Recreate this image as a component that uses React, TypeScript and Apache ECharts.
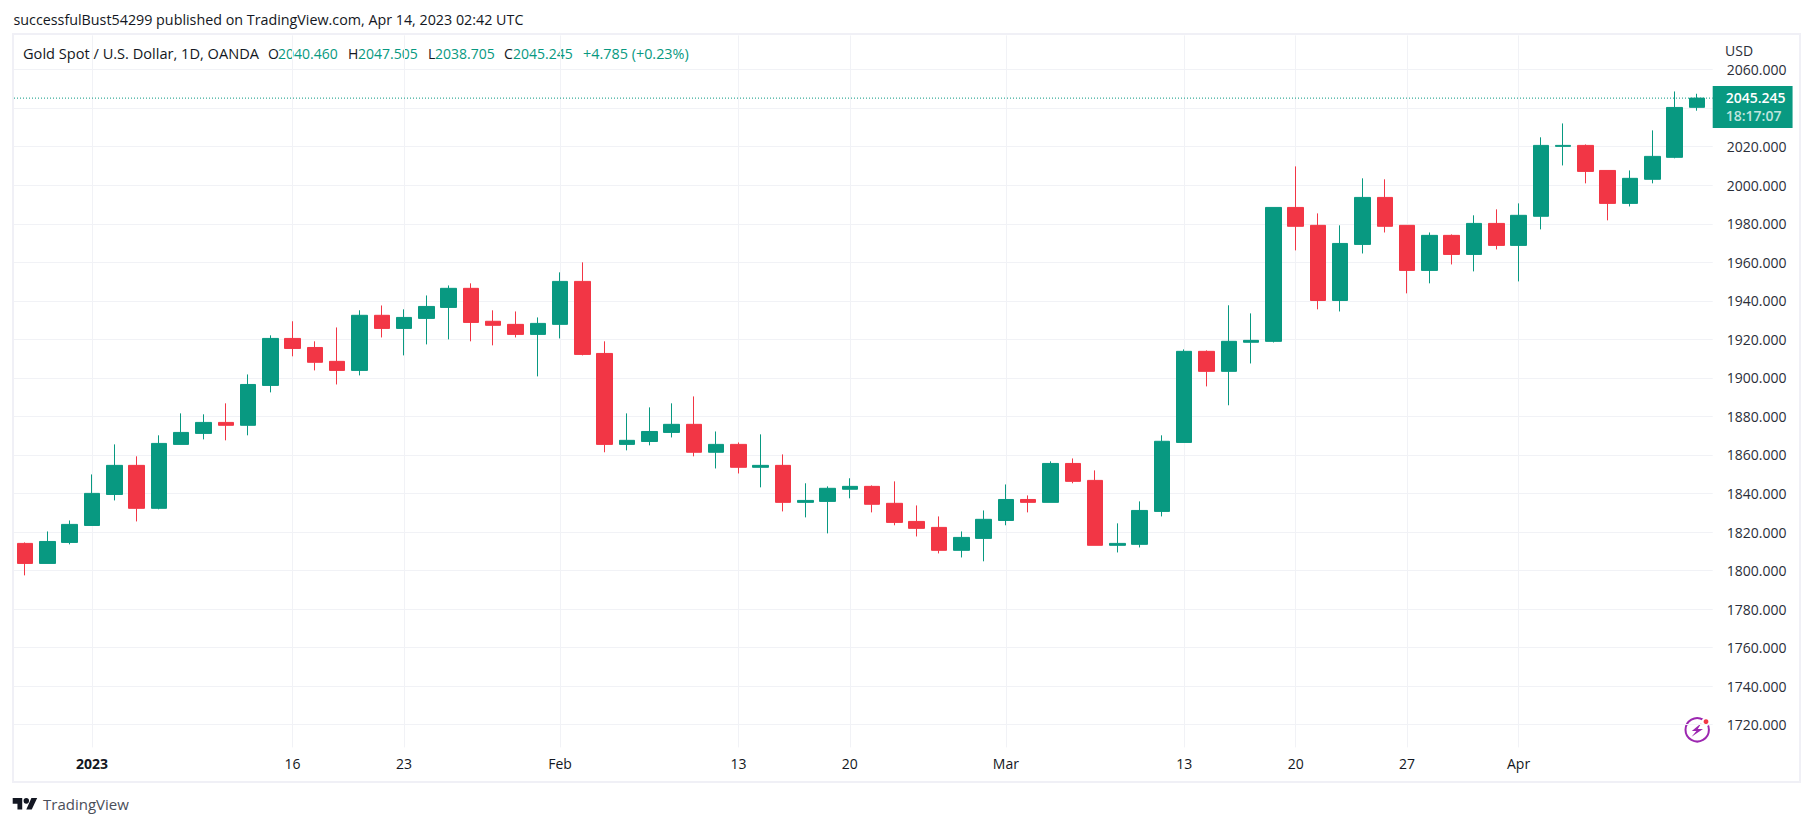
import * as React from "react";
import * as echarts from "echarts";

const UP = "#089981";
const DOWN = "#F23645";
const GRID = "#F1F2F6";
const BORDER = "#F0F0F6";
const FONT = "'Open Sans', sans-serif";

const dates = [
  "Dec 28", "Dec 29", "Dec 30", "2023", "Jan 4", "Jan 5", "Jan 6", "Jan 9", "Jan 10", "Jan 11",
  "Jan 12", "Jan 13", "16", "Jan 17", "Jan 18", "Jan 19", "Jan 20", "23", "Jan 24", "Jan 25",
  "Jan 26", "Jan 27", "Jan 30", "Jan 31", "Feb", "Feb 2", "Feb 3", "Feb 6", "Feb 7", "Feb 8",
  "Feb 9", "Feb 10", "13", "Feb 14", "Feb 15", "Feb 16", "Feb 17", "20", "Feb 21", "Feb 22",
  "Feb 23", "Feb 24", "Feb 27", "Feb 28", "Mar", "Mar 2", "Mar 3", "Mar 6", "Mar 7", "Mar 8",
  "Mar 9", "Mar 10", "13", "Mar 14", "Mar 15", "Mar 16", "Mar 17", "20", "Mar 21", "Mar 22",
  "Mar 23", "Mar 24", "27", "Mar 28", "Mar 29", "Mar 30", "Mar 31", "Apr", "Apr 4", "Apr 5",
  "Apr 6", "Apr 7", "Apr 10", "Apr 11", "Apr 12", "Apr 13",
];
const labelledIndexes = [3, 12, 17, 24, 32, 37, 44, 52, 57, 62, 67];

const opens = [
  1814.1, 1803.7, 1814.6, 1823.4, 1839.5, 1854.6, 1832.3, 1865.5, 1871.2, 1876.9,
  1875.4, 1896.1, 1920.5, 1915.8, 1908.6, 1903.9, 1932.5, 1925.7, 1930.9, 1936.6,
  1946.5, 1929.4, 1927.8, 1922.6, 1927.8, 1950.1, 1912.7, 1865.5, 1867.0, 1871.7,
  1875.9, 1861.4, 1865.5, 1853.6, 1854.6, 1835.4, 1835.9, 1842.2, 1843.7, 1834.9,
  1825.5, 1822.4, 1810.5, 1816.7, 1826.0, 1836.9, 1835.4, 1855.6, 1846.8, 1813.1,
  1813.6, 1830.7, 1866.5, 1913.8, 1903.4, 1918.5, 1918.97, 1988.5, 1979.2, 1940.2,
  1969.3, 1993.7, 1979.2, 1955.8, 1974.0, 1964.1, 1980.2, 1968.8, 1983.9, 2020.2,
  2020.7, 2007.7, 1990.6, 2003.1, 2014.5, 2040.46,
];
const closes = [
  1803.7, 1815.1, 1823.96, 1840.06, 1854.6, 1832.3, 1866.0, 1871.7, 1876.9, 1875.4,
  1896.6, 1920.5, 1915.3, 1908.1, 1903.9, 1932.5, 1925.7, 1931.4, 1937.1, 1946.5,
  1928.8, 1927.3, 1922.6, 1928.3, 1950.1, 1912.2, 1865.5, 1867.6, 1872.2, 1875.9,
  1861.4, 1865.5, 1853.6, 1854.6, 1835.4, 1836.4, 1842.7, 1843.7, 1834.4, 1825.0,
  1821.9, 1810.5, 1817.2, 1826.6, 1836.9, 1835.4, 1855.6, 1846.3, 1813.1, 1814.1,
  1831.2, 1867.1, 1913.8, 1903.4, 1919.0, 1919.5, 1988.5, 1978.7, 1940.2, 1969.8,
  1993.7, 1978.7, 1955.8, 1974.0, 1964.1, 1980.2, 1968.8, 1984.4, 2020.7, 2020.7,
  2007.2, 1990.6, 2003.6, 2015.0, 2040.4, 2045.245,
];
const lows = [
  1797.5, 1803.7, 1813.6, 1823.4, 1836.4, 1825.5, 1831.8, 1865.5, 1868.1, 1867.6,
  1870.2, 1892.5, 1911.2, 1903.9, 1896.6, 1901.3, 1921.0, 1911.7, 1917.4, 1920.0,
  1919.0, 1916.9, 1921.0, 1900.8, 1920.5, 1911.7, 1861.4, 1862.4, 1865.0, 1869.1,
  1859.3, 1853.0, 1850.4, 1843.2, 1830.7, 1827.6, 1819.3, 1837.5, 1830.2, 1823.5,
  1817.7, 1808.9, 1806.8, 1804.8, 1823.5, 1830.2, 1835.4, 1845.3, 1813.1, 1809.4,
  1812.0, 1828.1, 1866.5, 1895.6, 1885.8, 1907.5, 1918.4, 1966.2, 1935.6, 1934.5,
  1964.6, 1975.5, 1943.9, 1949.1, 1958.9, 1955.3, 1966.7, 1950.1, 1977.1, 2010.3,
  2001.0, 1981.8, 1989.0, 2001.0, 2014.0, 2038.705,
];
const highs = [
  1814.6, 1820.3, 1826.0, 1849.9, 1865.5, 1859.3, 1870.2, 1881.6, 1881.1, 1886.8,
  1901.8, 1922.1, 1929.4, 1919.0, 1926.2, 1935.1, 1937.6, 1935.6, 1942.8, 1948.0,
  1949.1, 1935.1, 1934.5, 1931.4, 1954.8, 1960.0, 1919.0, 1881.6, 1884.7, 1886.8,
  1890.4, 1872.2, 1866.5, 1870.7, 1860.3, 1845.3, 1843.7, 1847.9, 1844.2, 1846.3,
  1833.8, 1828.1, 1820.3, 1831.2, 1844.7, 1839.0, 1856.7, 1858.2, 1852.0, 1824.5,
  1835.9, 1870.2, 1914.8, 1914.3, 1937.7, 1933.5, 1988.5, 2009.8, 1985.4, 1979.2,
  2003.6, 2003.1, 1979.2, 1975.5, 1974.5, 1984.4, 1987.5, 1990.6, 2024.9, 2032.1,
  2021.2, 2007.7, 2007.7, 2028.5, 2048.7, 2047.505,
];

const lastPrice = 2045.245;
const countdown = "18:17:07";
const hiddenTickLabels = [2040];

const legendParts = [
  { text: "Gold Spot / U.S. Dollar, 1D, OANDA", x: 23, color: "#131722", size: 14.6 },
  { text: "O", x: 268, color: "#131722", size: 14 },
  { text: "2040.460", x: 278, color: UP, size: 14 },
  { text: "H", x: 348, color: "#131722", size: 14 },
  { text: "2047.505", x: 358, color: UP, size: 14 },
  { text: "L", x: 428, color: "#131722", size: 14 },
  { text: "2038.705", x: 435, color: UP, size: 14 },
  { text: "C", x: 504, color: "#131722", size: 14 },
  { text: "2045.245", x: 513, color: UP, size: 14 },
  { text: "+4.785 (+0.23%)", x: 583, color: UP, size: 14.4 },
];

echarts.graphic.registerShape(
  "tvLogo",
  echarts.graphic.extendPath("M14 6H0v8h7v8h7V6Zm14 16h-8l7.5-16H36l-8 16Z M24 10a4 4 0 1 1-8 0a4 4 0 1 1 8 0Z", {}),
);

export default function App() {
  const chartRef = React.useRef<HTMLDivElement | null>(null);

  React.useEffect(() => {
    if (!chartRef.current) return;
    const chart = echarts.init(chartRef.current, undefined, { renderer: "svg" });
    const showTick = (index: number) => labelledIndexes.includes(index);

    chart.setOption({
      animation: false,
      backgroundColor: "#ffffff",
      textStyle: { fontFamily: FONT },
      grid: [
        { left: 14, top: 35.4, width: 1694, height: 712 },
        { left: 14, top: 35.4, width: 1698.7, height: 712 },
      ],
      xAxis: [
        {
          type: "category",
          gridIndex: 0,
          data: dates,
          axisLine: { show: false },
          axisTick: { show: false },
          axisLabel: {
            interval: (index: number) => showTick(index),
            color: "#131722",
            fontSize: 14,
            fontFamily: FONT,
            margin: 9,
            formatter: (value: string) => (value === "2023" ? "{year|2023}" : value),
            rich: { year: { fontWeight: 700, fontSize: 14, color: "#131722", fontFamily: FONT } },
          },
          splitLine: {
            show: true,
            alignWithLabel: true,
            interval: (index: number) => showTick(index),
            lineStyle: { color: GRID, width: 1 },
          },
        },
        { type: "value", gridIndex: 1, min: 0, max: 1, show: false, splitLine: { show: false } },
      ],
      yAxis: [
        { type: "value", gridIndex: 0, min: 1708.2, max: 2077.8, show: false, splitLine: { show: false } },
        {
          type: "value",
          gridIndex: 1,
          position: "right",
          min: 1708.2,
          max: 2077.8,
          splitNumber: 18,
          minInterval: 20,
          maxInterval: 20,
          axisLine: { show: false },
          axisTick: { show: false },
          axisLabel: {
            color: "#2a2e39",
            fontSize: 14,
            fontFamily: FONT,
            margin: 14,
            padding: [0, 0, 2, 0],
            showMinLabel: false,
            showMaxLabel: false,
            formatter: (value: number) => (hiddenTickLabels.includes(value) ? "" : value.toFixed(3)),
          },
          splitLine: {
            show: true,
            showMinLine: false,
            showMaxLine: false,
            lineStyle: { color: GRID, width: 1 },
          },
        },
      ],
      series: [
        {
          type: "candlestick",
          xAxisIndex: 0,
          yAxisIndex: 0,
          barWidth: 16,
          itemStyle: {
            color: UP,
            color0: DOWN,
            borderColor: UP,
            borderColor0: DOWN,
            borderWidth: 1,
          },
          data: dates.map((_, i) => [opens[i], closes[i], lows[i], highs[i]]),
        },
        {
          type: "line",
          xAxisIndex: 1,
          yAxisIndex: 1,
          symbol: "circle",
          symbolSize: 0,
          showSymbol: true,
          lineStyle: { color: UP, width: 1, type: [1, 2] },
          data: [
            [0, lastPrice],
            {
              value: [1, lastPrice],
              label: {
                show: true,
                position: "right",
                distance: 0,
                offset: [0, 9],
                backgroundColor: UP,
                padding: [3, 7, 3, 13],
                formatter: `{price|${lastPrice.toFixed(3)}}\n{time|${countdown}}`,
                rich: {
                  price: { color: "#ffffff", fontSize: 14, fontWeight: 600, lineHeight: 17, fontFamily: FONT, align: "left" },
                  time: { color: "#bfe5df", fontSize: 14, fontWeight: 600, lineHeight: 19, fontFamily: FONT, align: "left" },
                },
              },
            },
          ],
        },
      ],
      graphic: [
        {
          type: "rect",
          shape: { x: 13, y: 34, width: 1787, height: 748 },
          style: { fill: "none", stroke: BORDER, lineWidth: 2 },
          silent: true,
        },
        {
          type: "text",
          x: 13.5,
          y: 19,
          style: {
            text: "successfulBust54299 published on TradingView.com, Apr 14, 2023 02:42 UTC",
            fill: "#131722",
            font: `14.3px ${FONT}`,
            textVerticalAlign: "middle",
          },
        },
        ...legendParts.map((part) => ({
          type: "text",
          x: part.x,
          y: 53,
          style: { text: part.text, fill: part.color, font: `${part.size}px ${FONT}`, textVerticalAlign: "middle" },
        })),
        {
          type: "text",
          x: 1725,
          y: 50,
          style: { text: "USD", fill: "#2a2e39", font: `14px ${FONT}`, textVerticalAlign: "middle" },
        },
        {
          type: "tvLogo",
          x: 12.7,
          y: 793.6,
          scaleX: 0.68,
          scaleY: 0.72,
          style: { fill: "#131722" },
        },
        {
          type: "text",
          x: 43,
          y: 804,
          style: { text: "TradingView", fill: "#4a4e59", font: `15px ${FONT}`, textVerticalAlign: "middle" },
        },
        {
          type: "circle",
          shape: { cx: 1697.2, cy: 729.8, r: 11.7 },
          style: { fill: "#ffffff", stroke: "#9C27B0", lineWidth: 2 },
        },
        {
          type: "polygon",
          shape: {
            points: [
              [1701.5, 723], [1691.8, 731], [1696.4, 731], [1691.6, 736.8],
              [1703, 729], [1697.8, 729],
            ],
          },
          style: { fill: "#9C27B0" },
        },
        {
          type: "circle",
          shape: { cx: 1706, cy: 721.7, r: 3.4 },
          style: { fill: DOWN, stroke: "#ffffff", lineWidth: 2 },
        },
      ],
    });

    return () => chart.dispose();
  }, []);

  return <div ref={chartRef} style={{ position: "absolute", left: 0, top: 0, width: 1813, height: 826 }} />;
}
